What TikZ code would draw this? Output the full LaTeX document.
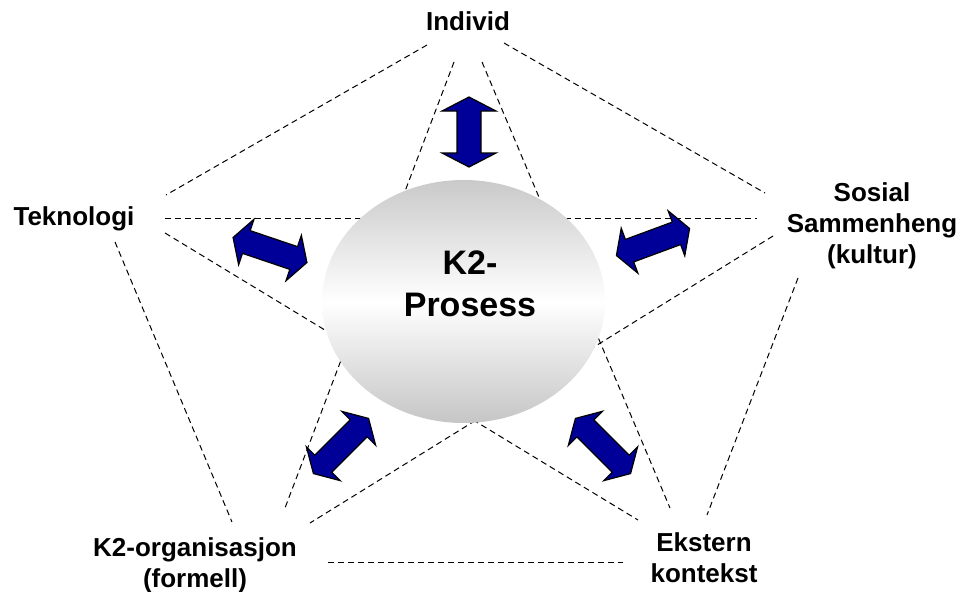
\documentclass[tikz,border=0pt]{standalone}
\usepackage{fontspec}
\setsansfont{Liberation Sans}
\usetikzlibrary{shapes.geometric}

\definecolor{arrowblue}{RGB}{0,0,153}

%% double block arrow: centre, angle, half length, half head width, half shaft width
\newcommand{\biarrow}[5]{%
  \filldraw[blockarrow,shift={#1},rotate=#2]
    (-#3,0) -- (-#3+14,-#4) -- (-#3+14,-#5) -- (#3-14,-#5) -- (#3-14,-#4) -- (#3,0)
    -- (#3-14,#4) -- (#3-14,#5) -- (-#3+14,#5) -- (-#3+14,#4) -- cycle;}

\begin{document}
\begin{tikzpicture}%
        [x=1pt, y=-1pt,
        link/.style={dash pattern=on 6pt off 4pt, line width=1pt},
        blockarrow/.style={fill=arrowblue, draw=black, line width=1.2pt, line join=miter},
        topic/.style={font=\fontsize{26}{31}\selectfont\sffamily\bfseries, align=center, inner sep=0pt},
        core/.style={ellipse, minimum width=283pt, minimum height=243pt, inner sep=0pt,
                     top color=gray!42, bottom color=gray!45, middle color=white}]

    \useasboundingbox (0,0) rectangle (962,592);

    %% Labels at the corners
    \node[topic] (ind) at (468,21)  {Individ};
    \node[topic] (tek) at (74,219)  {Teknologi};
    \node[topic] (sos) at (872,226) {Sosial\\Sammenheng\\(kultur)};
    \node[topic] (org) at (195,565) {K2-organisasjon\\(formell)};
    \node[topic] (ext) at (704,558) {Ekstern\\kontekst};
    %%
    %% Ends of the dashed lines
    %%
    \coordinate (ind-tek) at (427,45);   \coordinate (ind-sos) at (504,43);
    \coordinate (ind-org) at (454,62);   \coordinate (ind-ext) at (482,62);
    \coordinate (tek-ind) at (166,195);  \coordinate (tek-sos) at (165,218);
    \coordinate (tek-ext) at (165,233);  \coordinate (tek-org) at (115,242);
    \coordinate (sos-ind) at (765,193);  \coordinate (sos-tek) at (757,218);
    \coordinate (sos-org) at (773,236);  \coordinate (sos-ext) at (798,278);
    \coordinate (org-tek) at (232,522);  \coordinate (org-ind) at (285,508);
    \coordinate (org-sos) at (310,523);  \coordinate (org-ext) at (328,562);
    \coordinate (ext-org) at (623,562);  \coordinate (ext-tek) at (638,520);
    \coordinate (ext-ind) at (670,508);  \coordinate (ext-sos) at (707,515);
    %%
    %% Pentagon and star
    %%
    \draw[link] (ind-tek) -- (tek-ind);
    \draw[link] (ind-sos) -- (sos-ind);
    \draw[link] (tek-org) -- (org-tek);
    \draw[link] (sos-ext) -- (ext-sos);
    \draw[link] (org-ext) -- (ext-org);
    \draw[link] (ind-org) -- (org-ind);
    \draw[link] (ind-ext) -- (ext-ind);
    \draw[link] (tek-sos) -- (sos-tek);
    \draw[link] (tek-ext) -- (ext-tek);
    \draw[link] (sos-org) -- (org-sos);
    %%
    %% The process in the middle
    %%
    \node[core] (proc) at (463.5,301.5) {};
    \node[font=\fontsize{34}{42}\selectfont\sffamily\bfseries, align=center, inner sep=0pt]
        (proctext) at (470,284) {K2-\\Prosess};
    %%
    %% Arrows
    %%
    \biarrow{(469,132)}{90}{35}{27}{12}
    \biarrow{(270,250)}{-18.7}{39}{24}{12}
    \biarrow{(653,242)}{20.3}{39}{24}{12}
    \biarrow{(341,446)}{45}{39}{24}{12}
    \biarrow{(603,446)}{-45}{39}{24}{12}
    %%
    \end{tikzpicture}
\end{document}
